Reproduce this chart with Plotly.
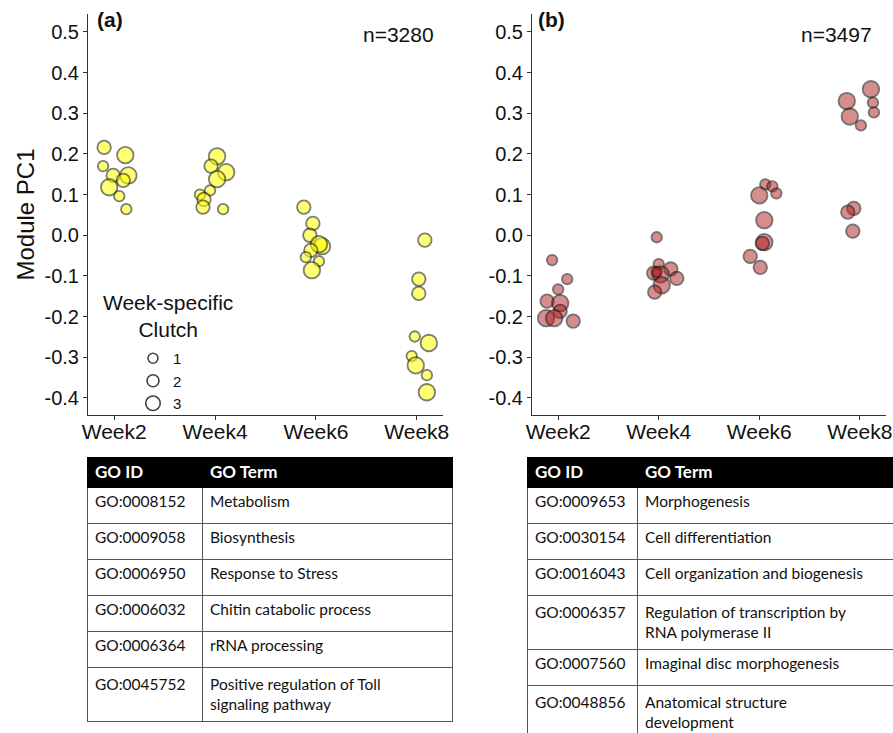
import plotly.graph_objects as go

W, H = 893, 733

weeks = ["Week2", "Week4", "Week6", "Week8"]
ytick_vals = [0.5, 0.4, 0.3, 0.2, 0.1, 0.0, -0.1, -0.2, -0.3, -0.4]
ytick_text = ["0.5", "0.4", "0.3", "0.2", "0.1", "0.0", "-0.1", "-0.2", "-0.3", "-0.4"]

# Panel (a): week index, horizontal jitter (week units), Module PC1, clutch
a_week = [0]*9 + [1]*9 + [2]*9 + [3]*9
a_jitter = [-0.10, 0.11, -0.11, -0.01, 0.14, 0.09, -0.05, 0.05, 0.12,
            0.02, -0.04, 0.11, 0.02, -0.05, -0.15, -0.11, -0.12, 0.08,
            -0.12, -0.03, -0.06, 0.06, 0.03, -0.05, -0.10, 0.03, -0.04,
            0.08, 0.02, 0.02, -0.02, 0.12, -0.05, -0.01, 0.10, 0.10]
a_pc1 = [0.216, 0.197, 0.170, 0.147, 0.147, 0.135, 0.118, 0.096, 0.064,
         0.194, 0.170, 0.155, 0.138, 0.110, 0.100, 0.088, 0.069, 0.064,
         0.069, 0.029, 0.000, -0.027, -0.022, -0.037, -0.054, -0.064, -0.086,
         -0.012, -0.108, -0.143, -0.249, -0.265, -0.297, -0.320, -0.344, -0.386]
a_clutch = [2, 3, 1, 2, 3, 2, 3, 1, 1,
            3, 2, 3, 3, 1, 1, 2, 2, 1,
            2, 2, 2, 3, 3, 2, 1, 1, 3,
            2, 2, 2, 1, 3, 1, 3, 1, 3]

# Panel (b)
b_week = [0]*9 + [1]*9 + [2]*9 + [3]*9
b_jitter = [-0.06, 0.09, 0.00, -0.11, 0.02, 0.02, -0.12, -0.04, 0.15,
            -0.02, 0.00, 0.12, -0.05, 0.02, 0.18, 0.03, -0.04, -0.02,
            0.06, 0.13, 0.17, 0.00, 0.05, 0.05, 0.03, -0.09, 0.01,
            0.11, -0.13, 0.13, 0.14, -0.10, 0.01, -0.06, -0.12, -0.07]
b_pc1 = [-0.061, -0.108, -0.133, -0.162, -0.167, -0.187, -0.204, -0.204, -0.211,
         -0.005, -0.071, -0.083, -0.093, -0.096, -0.106, -0.123, -0.140, -0.090,
         0.125, 0.120, 0.103, 0.098, 0.037, -0.017, -0.020, -0.052, -0.079,
         0.359, 0.330, 0.326, 0.302, 0.292, 0.270, 0.066, 0.057, 0.010]
b_clutch = [1, 1, 1, 2, 3, 2, 3, 3, 2,
            1, 1, 2, 2, 3, 2, 3, 2, 1,
            1, 1, 1, 3, 3, 3, 2, 2, 2,
            3, 3, 1, 1, 3, 1, 2, 2, 2]

clutch_levels = [1, 2, 3]
clutch_size = {1: 10.5, 2: 13.5, 3: 16.5}
legend_size = {1: 10, 2: 12, 3: 14.5}

# GO tables
table_header = ["GO ID", "GO Term"]
a_go_id = ["GO:0008152", "GO:0009058", "GO:0006950", "GO:0006032", "GO:0006364", "GO:0045752"]
a_go_term = ["Metabolism", "Biosynthesis", "Response to Stress", "Chitin catabolic process",
             "rRNA processing", "Positive regulation of Toll<br>signaling pathway"]
b_go_id = ["GO:0009653", "GO:0030154", "GO:0016043", "GO:0006357", "GO:0007560", "GO:0048856"]
b_go_term = ["Morphogenesis", "Cell differentiation", "Cell organization and biogenesis",
             "Regulation of transcription by<br>RNA polymerase II", "Imaginal disc morphogenesis",
             "Anatomical structure<br>development"]


def id_cells(ids, terms):
    # give the ID the same number of lines as its term so both start on the same line
    return [i + "<br>\u00a0" * t.count("<br>") for i, t in zip(ids, terms)]


FONT = "Arial, Liberation Sans, sans-serif"
TFONT = "Lato, Carlito, sans-serif"

fig = go.Figure()


def px_x(p):
    return p / W


def px_y(p):
    return 1 - p / H


fig.add_trace(go.Scatter(
    x=[w + j for w, j in zip(a_week, a_jitter)], y=a_pc1, mode="markers",
    marker=dict(size=[clutch_size[c] for c in a_clutch], color="rgba(255,255,0,0.78)",
                line=dict(color="rgba(20,20,20,0.78)", width=1.8)),
    xaxis="x", yaxis="y", showlegend=False, hoverinfo="skip"))

fig.add_trace(go.Scatter(
    x=[w + j for w, j in zip(b_week, b_jitter)], y=b_pc1, mode="markers",
    marker=dict(size=[clutch_size[c] for c in b_clutch], color="rgba(175,30,30,0.72)",
                line=dict(color="rgba(20,20,20,0.78)", width=1.8)),
    xaxis="x2", yaxis="y2", showlegend=False, hoverinfo="skip"))

for c in clutch_levels:
    fig.add_trace(go.Scatter(
        x=[None], y=[None], mode="markers", name=str(c),
        marker=dict(size=legend_size[c], color="white", line=dict(color="#444", width=1.6)),
        xaxis="x", yaxis="y", showlegend=True))

header_style = dict(fill_color="black",
                    font=dict(family=TFONT, size=17, color="white", weight="bold"),
                    align="left", height=30, line=dict(color="black", width=1))
cell_style = dict(fill_color="white", font=dict(family=TFONT, size=15.5, color="#111"),
                  align="left", height=36, line=dict(color="#555", width=1))

fig.add_trace(go.Table(
    domain=dict(x=[px_x(87), px_x(452)], y=[0.0, px_y(457)]),
    columnwidth=[115, 250],
    header=dict(values=table_header, **header_style),
    cells=dict(values=[id_cells(a_go_id, a_go_term), a_go_term], **cell_style)))

fig.add_trace(go.Table(
    domain=dict(x=[px_x(527), 1.0], y=[0.0, px_y(457)]),
    columnwidth=[110, 256],
    header=dict(values=table_header, **header_style),
    cells=dict(values=[id_cells(b_go_id, b_go_term), b_go_term], **cell_style)))

yr = [-0.442, 0.544]
common_x = dict(range=[-0.26, 3.26], tickvals=[0, 1, 2, 3], ticktext=weeks,
                showline=True, linecolor="#333", linewidth=1, ticks="outside", ticklen=4,
                tickcolor="#333", showgrid=False, zeroline=False, automargin=False,
                ticklabelstandoff=-6,
                tickfont=dict(family=FONT, size=21, color="#111"))
common_y = dict(range=yr, tickvals=ytick_vals, ticktext=ytick_text,
                showline=True, linecolor="#333", linewidth=1, ticks="outside", ticklen=4,
                tickcolor="#333", showgrid=False, zeroline=False, automargin=False,
                tickfont=dict(family=FONT, size=20, color="#111"))

fig.update_layout(
    width=W, height=H, autosize=False,
    margin=dict(l=0, r=0, t=0, b=0),
    paper_bgcolor="white", plot_bgcolor="white",
    font=dict(family=FONT, color="#111"),
    xaxis=dict(domain=[px_x(88), px_x(443)], anchor="y", **common_x),
    yaxis=dict(domain=[px_y(415), px_y(14)], anchor="x",
               title=dict(text="Module PC1", font=dict(family=FONT, size=24, color="#111"), standoff=3),
               **common_y),
    xaxis2=dict(domain=[px_x(532), px_x(886)], anchor="y2", **common_x),
    yaxis2=dict(domain=[px_y(415), px_y(14)], anchor="x2", **common_y),
    legend=dict(x=px_x(133), y=px_y(342), xanchor="left", yanchor="top",
                bgcolor="rgba(0,0,0,0)", font=dict(family=FONT, size=15, color="#111"),
                itemsizing="trace", tracegroupgap=0),
    annotations=[
        dict(text="<b>(a)</b>", x=px_x(95), y=px_y(19), xref="paper", yref="paper",
             xanchor="left", yanchor="middle", showarrow=False, font=dict(family=FONT, size=21, color="#111")),
        dict(text="n=3280", x=px_x(398), y=px_y(34), xref="paper", yref="paper",
             xanchor="center", yanchor="middle", showarrow=False, font=dict(family=FONT, size=21, color="#111")),
        dict(text="<b>(b)</b>", x=px_x(536), y=px_y(19), xref="paper", yref="paper",
             xanchor="left", yanchor="middle", showarrow=False, font=dict(family=FONT, size=21, color="#111")),
        dict(text="n=3497", x=px_x(836), y=px_y(34), xref="paper", yref="paper",
             xanchor="center", yanchor="middle", showarrow=False, font=dict(family=FONT, size=21, color="#111")),
        dict(text="Week-specific<br>Clutch", x=px_x(168), y=px_y(316), xref="paper", yref="paper",
             xanchor="center", yanchor="middle", showarrow=False, align="center",
             font=dict(family=FONT, size=21, color="#111")),
    ],
)

fig.write_html("out.html", config={"displayModeBar": False},
               post_script="document.body.style.margin='0';document.body.style.overflow='hidden';")
